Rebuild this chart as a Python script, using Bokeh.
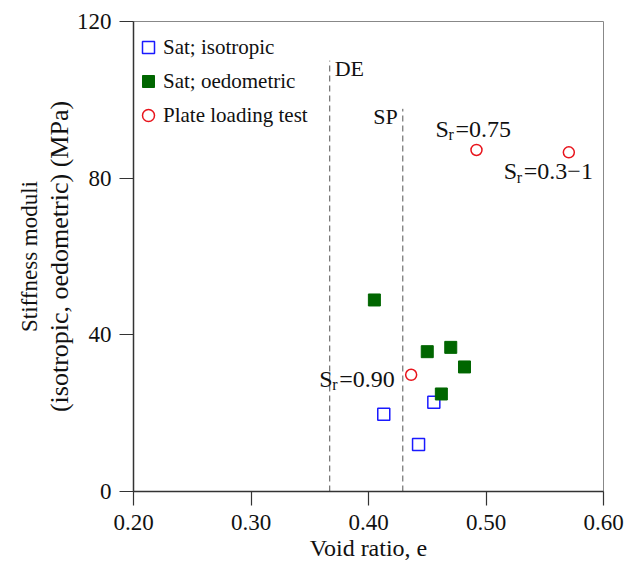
from bokeh.plotting import figure
from bokeh.models import Range1d, FixedTicker, Legend, LegendItem, Label, LinearAxis
from bokeh.embed import file_html
from bokeh.resources import INLINE

# ---- data ----
iso_e = [0.413, 0.4426, 0.4556]
iso_E = [19.7, 12.0, 22.8]
oed_e = [0.405, 0.450, 0.470, 0.4817, 0.462]
oed_E = [48.9, 35.7, 36.8, 31.8, 24.9]
plt_e = [0.4363, 0.4919, 0.5705]
plt_E = [29.8, 87.2, 86.6]
sr_texts = ["=0.90", "=0.75", "=0.3\u22121"]
ref_names = ["DE", "SP"]
ref_e = [0.367, 0.4292]
ref_top = [110.0, 97.7]
x_ticks = [0.20, 0.30, 0.40, 0.50, 0.60]
x_tick_labels = ["0.20", "0.30", "0.40", "0.50", "0.60"]
y_ticks = [0, 40, 80, 120]
y_title = ["Stiffness moduli", "(isotropic, oedometric) (MPa)"]

FONT = "Liberation Serif"
INK = "#111111"

p = figure(frame_width=470, frame_height=470, min_border_left=133, min_border_right=22,
           min_border_top=21, min_border_bottom=73, output_backend="svg",
           toolbar_location=None, x_range=Range1d(0.2, 0.6), y_range=Range1d(0, 120))
p.grid.visible = False
p.outline_line_color = "#888888"
p.outline_line_width = 1
p.background_fill_color = "white"
p.border_fill_color = "white"

for ax in (p.xaxis[0], p.yaxis[0]):
    ax.axis_line_color = "#333333"
    ax.axis_line_width = 1.5
    ax.major_tick_line_color = "#333333"
    ax.major_tick_line_width = 1.2
    ax.major_tick_out = 14
    ax.major_tick_in = 0
    ax.minor_tick_line_color = None
    ax.major_label_text_font = FONT
    ax.major_label_text_font_size = "23px"
    ax.major_label_text_color = INK
    ax.axis_label_text_font = FONT
    ax.axis_label_text_font_style = "normal"
    ax.axis_label_text_color = INK

p.xaxis.ticker = FixedTicker(ticks=x_ticks)
p.xaxis.major_label_overrides = {t: l for t, l in zip(x_ticks, x_tick_labels)}
p.yaxis.ticker = FixedTicker(ticks=y_ticks)
p.xaxis.axis_label = "Void ratio, e"
p.xaxis.axis_label_text_font_size = "24px"
p.xaxis.major_label_standoff = 9
p.xaxis.axis_label_standoff = 2
p.yaxis.major_label_standoff = 8
p.yaxis.axis_label = y_title[1]
p.yaxis.axis_label_text_font_size = "26px"
p.yaxis.axis_label_standoff = 0

# outer (tick-less) axis carrying the first line of the y title
y_title_axis = LinearAxis(ticker=FixedTicker(ticks=[]), axis_label=y_title[0],
                          axis_line_color=None, major_tick_line_color=None,
                          minor_tick_line_color=None, major_tick_out=0, major_tick_in=0,
                          major_label_standoff=0, axis_label_standoff=0,
                          axis_label_text_font=FONT, axis_label_text_font_size="23px",
                          axis_label_text_font_style="normal", axis_label_text_color=INK)
p.add_layout(y_title_axis, "left")

# reference lines
p.segment(x0=ref_e, y0=[0, 0], x1=ref_e, y1=ref_top, line_color="#555555",
          line_width=1, line_dash="6 4")
p.add_layout(Label(x=ref_e[0], y=ref_top[0], text=ref_names[0], x_offset=5, y_offset=-8,
                   text_baseline="alphabetic", text_font=FONT, text_font_size="22px",
                   text_color=INK))
p.add_layout(Label(x=ref_e[1], y=ref_top[1], text=ref_names[1], x_offset=-5, y_offset=-8,
                   text_align="right", text_baseline="alphabetic", text_font=FONT,
                   text_font_size="22px", text_color=INK))

# markers
r_iso = p.scatter(iso_e, iso_E, marker="square", size=12, fill_color="white",
                  line_color="#1a1aff", line_width=1.5)
r_oed = p.scatter(oed_e, oed_E, marker="square", size=12, fill_color="#006600",
                  line_color="#006600", line_width=1)
r_plt = p.scatter(plt_e, plt_E, marker="circle", size=11, fill_color="white",
                  line_color="#e8141c", line_width=1.5)

# S_r annotations next to the plate loading points (pixel offsets)
sr_offsets = [(-92, -4), (-41, 21), (-65, -19)]
for xe, ye, txt, (dx, dy) in zip(plt_e, plt_E, sr_texts, sr_offsets):
    p.add_layout(Label(x=xe, y=ye, text="S", x_offset=dx, y_offset=dy,
                       text_baseline="alphabetic", text_font=FONT, text_font_size="24px",
                       text_color=INK))
    p.add_layout(Label(x=xe, y=ye, text="r", x_offset=dx + 13, y_offset=dy - 6,
                       text_baseline="alphabetic", text_font=FONT, text_font_size="16px",
                       text_color=INK))
    p.add_layout(Label(x=xe, y=ye, text=txt, x_offset=dx + 20, y_offset=dy,
                       text_baseline="alphabetic", text_font=FONT, text_font_size="24px",
                       text_color=INK))

legend = Legend(items=[LegendItem(label="Sat; isotropic", renderers=[r_iso]),
                       LegendItem(label="Sat; oedometric", renderers=[r_oed]),
                       LegendItem(label="Plate loading test", renderers=[r_plt])],
                location=(0, 361), padding=0, margin=0, spacing=4,
                glyph_width=30, glyph_height=30, label_height=30, label_standoff=0,
                label_text_font=FONT, label_text_font_size="21px", label_text_color=INK,
                border_line_color=None, background_fill_alpha=0)
p.add_layout(legend)

open("out.html", "w").write(file_html(p, INLINE))
